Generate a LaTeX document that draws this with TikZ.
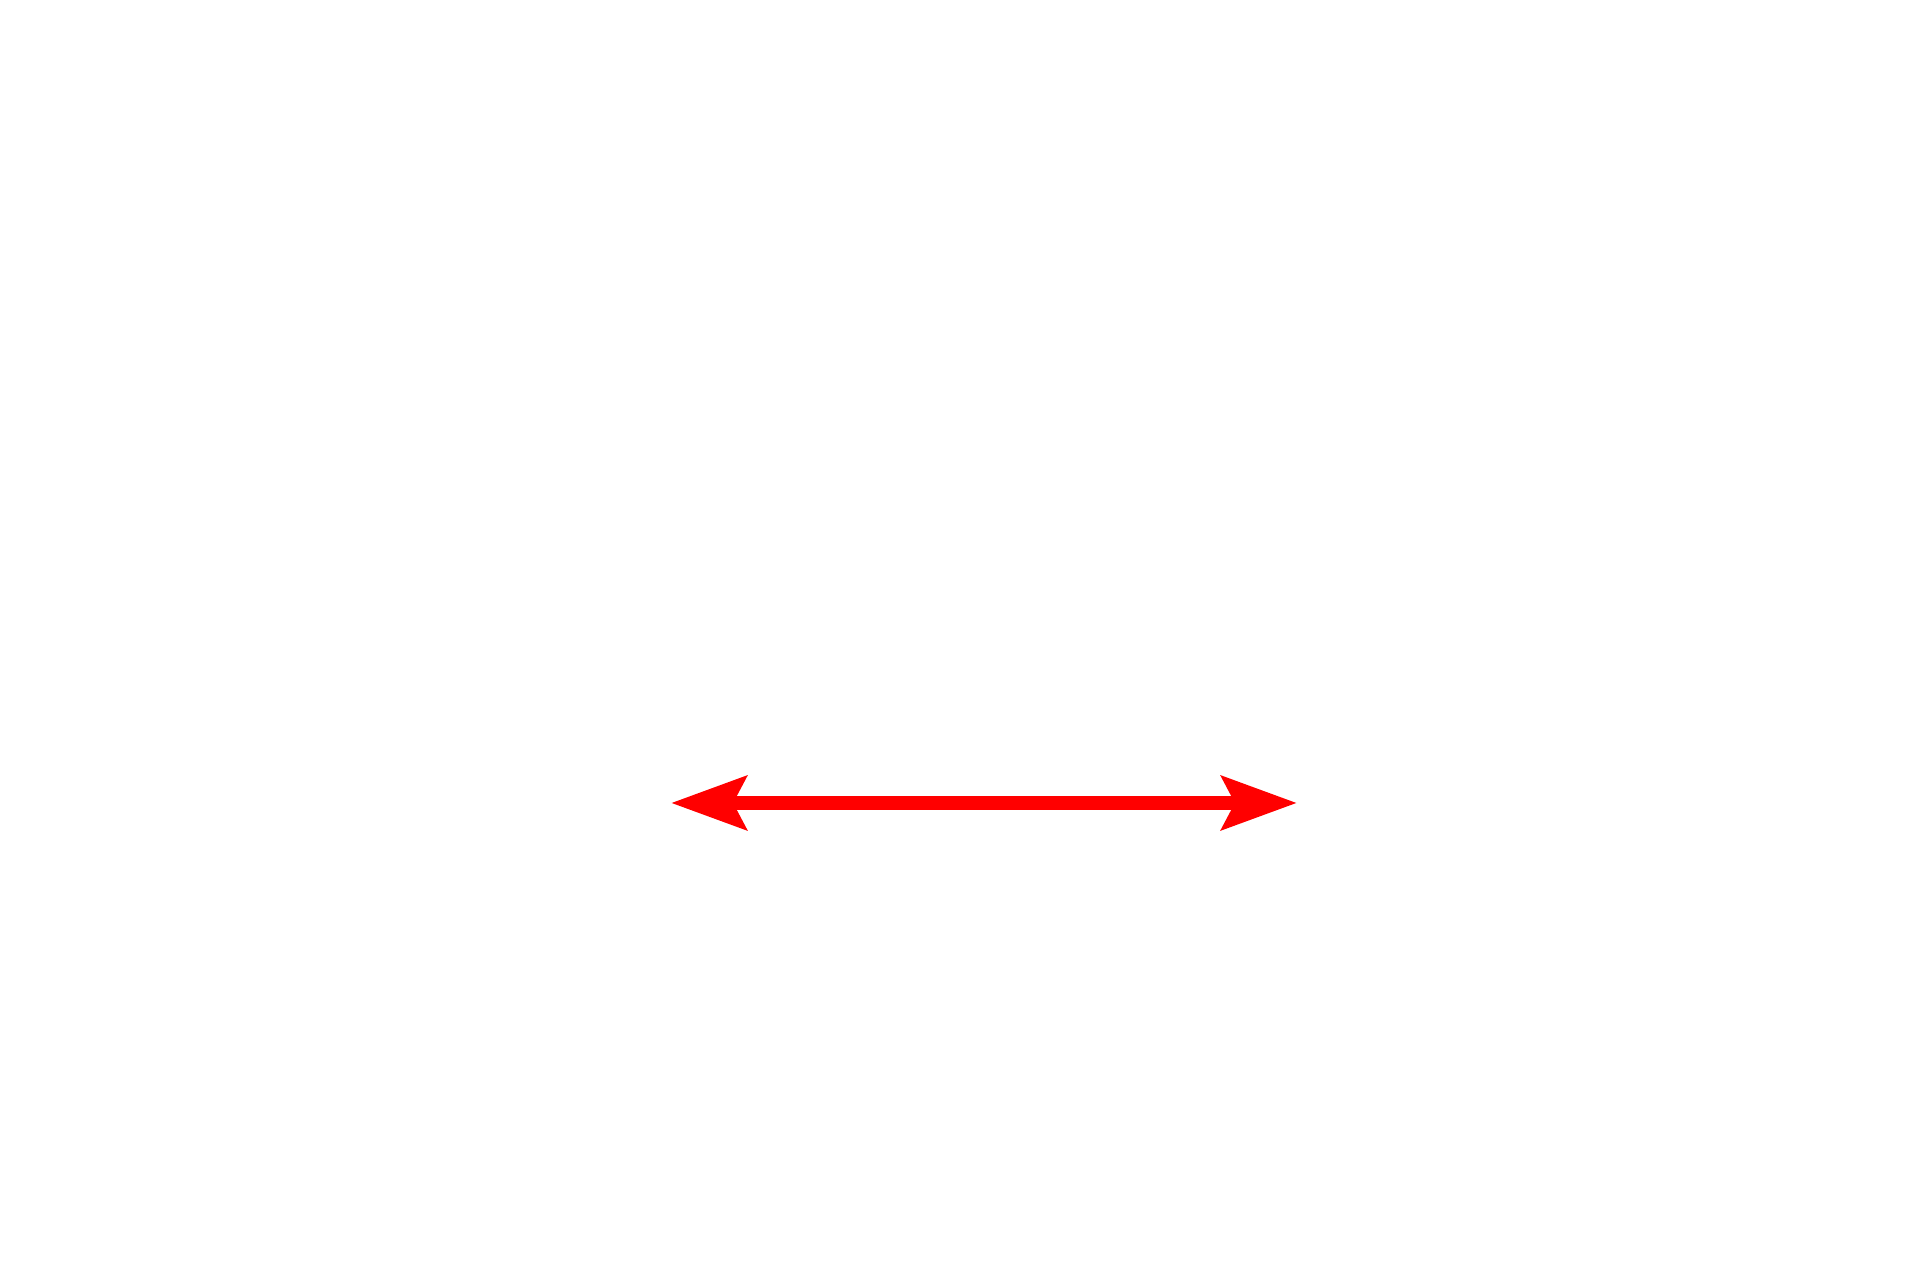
\documentclass[tikz,border=0pt]{standalone}
\usepackage{tikz}
\usepackage{xcolor}
\usetikzlibrary{positioning, arrows.meta}

\begin{document}
\begin{tikzpicture}[
      span/.style={
        draw=red,
        line width=4pt,
        {Stealth[length=0.75cm, width=0.53cm, inset=0.13cm]}-{Stealth[length=0.75cm, width=0.53cm, inset=0.13cm]}
      }
    ]
    % Frame
    \useasboundingbox (0,0) rectangle (19.2,12.8);
    \fill[white] (0,0) rectangle (19.2,12.8);

    % Ends
    \coordinate (lend) at (6.71,4.77);
    \coordinate (rend) at (12.97,4.77);

    % Arrow
    \path (lend) edge[span] (rend);
  \end{tikzpicture}
\end{document}
